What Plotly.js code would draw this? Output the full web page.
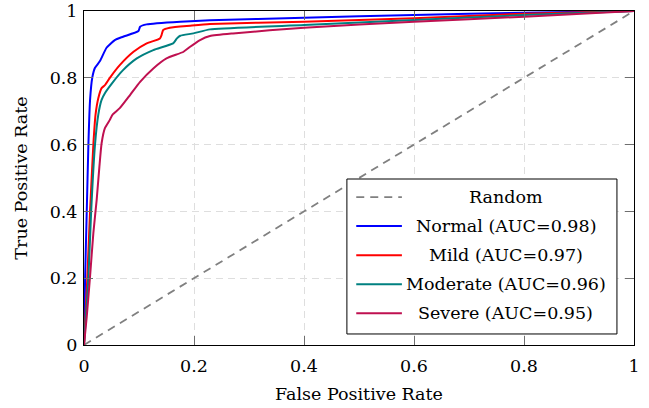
<!DOCTYPE html>
<html>
<head>
<meta charset="utf-8">
<script src="https://cdn.plot.ly/plotly-3.0.1.min.js"></script>
<style>html,body{margin:0;padding:0;background:#fff;}#chart{width:649px;height:408px;}</style>
</head>
<body>
<div id="chart"></div>
<script>
// ---- data ----
const seriesNames = ["Random", "Normal (AUC=0.98)", "Mild (AUC=0.97)", "Moderate (AUC=0.96)", "Severe (AUC=0.95)"];
const seriesColors = ["#808080", "#0000ff", "#ff0000", "#008080", "#bf1050"];

const randomFpr = [0, 1];
const randomTpr = [0, 1];

const normalFpr = [0, 0.002, 0.005, 0.008, 0.011, 0.015, 0.02, 0.029, 0.041, 0.056, 0.071, 0.099, 0.102, 0.114, 0.175, 0.229, 0.4, 0.6, 0.8, 1];
const normalTpr = [0, 0.2, 0.4, 0.6, 0.733, 0.8, 0.83, 0.85, 0.89, 0.913, 0.923, 0.94, 0.953, 0.96, 0.968, 0.972, 0.98, 0.988, 0.995, 1];

const mildFpr = [0, 0.006, 0.011, 0.017, 0.021, 0.026, 0.032, 0.038, 0.047, 0.065, 0.09, 0.114, 0.138, 0.141, 0.144, 0.156, 0.193, 0.229, 0.4, 0.6, 0.8, 1];
const mildTpr = [0, 0.2, 0.4, 0.6, 0.69, 0.739, 0.769, 0.778, 0.8, 0.838, 0.878, 0.903, 0.918, 0.928, 0.943, 0.95, 0.956, 0.961, 0.968, 0.978, 0.992, 1];

const moderateFpr = [0, 0.008, 0.013, 0.02, 0.026, 0.032, 0.038, 0.053, 0.071, 0.096, 0.126, 0.162, 0.169, 0.175, 0.199, 0.229, 0.4, 0.6, 0.8, 1];
const moderateTpr = [0, 0.2, 0.4, 0.6, 0.69, 0.734, 0.754, 0.788, 0.823, 0.858, 0.883, 0.903, 0.918, 0.926, 0.933, 0.945, 0.958, 0.973, 0.988, 1];

const severeFpr = [0, 0.005, 0.011, 0.017, 0.023, 0.028, 0.032, 0.038, 0.047, 0.052, 0.065, 0.084, 0.102, 0.126, 0.15, 0.181, 0.193, 0.211, 0.229, 0.271, 0.4, 0.6, 0.8, 1];
const severeTpr = [0, 0.085, 0.205, 0.335, 0.434, 0.534, 0.604, 0.649, 0.674, 0.69, 0.709, 0.749, 0.788, 0.828, 0.858, 0.878, 0.893, 0.913, 0.925, 0.933, 0.95, 0.968, 0.983, 1];

const tickVals = [0, 0.2, 0.4, 0.6, 0.8, 1];
const tickText = ["0", "0.2", "0.4", "0.6", "0.8", "1"];

const xTitle = "False Positive Rate";
const yTitle = "True Positive Rate";

// ---- build ----
const xs = [randomFpr, normalFpr, mildFpr, moderateFpr, severeFpr];
const ys = [randomTpr, normalTpr, mildTpr, moderateTpr, severeTpr];
const FONT = "DejaVu Serif";
const FS = 17.5;

const traces = xs.map((x, i) => ({
  type: "scatter", mode: "lines", x: x, y: ys[i], name: seriesNames[i],
  showlegend: false, hoverinfo: "skip",
  line: i === 0 ? {color: seriesColors[i], width: 1.8, dash: "8px,6px"}
                : {color: seriesColors[i], width: 2, shape: "spline", smoothing: 0.5}
}));

// custom legend (centered text like the reference)
const legX0 = 0.478, legX1 = 0.969, legTop = 0.497, legBot = 0.033;
const rowY = [0.443, 0.356, 0.269, 0.182, 0.095];
const shapes = [{
  type: "rect", xref: "paper", yref: "paper", x0: legX0, x1: legX1, y0: legBot, y1: legTop,
  fillcolor: "#ffffff", line: {color: "#000000", width: 1}, layer: "above"
}];
const annotations = [];
seriesNames.forEach((n, i) => {
  shapes.push({
    type: "line", xref: "paper", yref: "paper", x0: 0.495, x1: 0.578, y0: rowY[i], y1: rowY[i],
    line: {color: seriesColors[i], width: i === 0 ? 1.8 : 2, dash: i === 0 ? "8px,6px" : "solid"}, layer: "above"
  });
  annotations.push({
    xref: "paper", yref: "paper", x: 0.767, y: rowY[i], text: n, showarrow: false,
    xanchor: "center", yanchor: "middle", font: {family: FONT, size: FS, color: "#000"}
  });
});

const axisCommon = {
  range: [0, 1], tickvals: tickVals, ticktext: tickText,
  ticks: "inside", ticklen: 9, tickwidth: 1, tickcolor: "#6e6e6e",
  showline: true, linecolor: "#000", linewidth: 1, mirror: "allticks",
  showgrid: true, gridcolor: "#dedede", gridwidth: 1, griddash: "7px,5px",
  zeroline: false, fixedrange: true,
  tickfont: {family: FONT, size: FS, color: "#000"}
};

const layout = {
  width: 649, height: 408,
  margin: {l: 84, r: 15, t: 11, b: 63},
  paper_bgcolor: "#fff", plot_bgcolor: "#fff",
  font: {family: FONT, size: FS, color: "#000"},
  xaxis: Object.assign({}, axisCommon, {ticklabelstandoff: 5, title: {text: xTitle, font: {family: FONT, size: FS}, standoff: 12}, automargin: false}),
  yaxis: Object.assign({}, axisCommon, {ticklabelstandoff: 2, title: {text: yTitle, font: {family: FONT, size: FS}, standoff: 17}, automargin: false}),
  shapes: shapes, annotations: annotations, showlegend: false
};

Plotly.newPlot("chart", traces, layout, {displayModeBar: false, staticPlot: true});
</script>
</body>
</html>
